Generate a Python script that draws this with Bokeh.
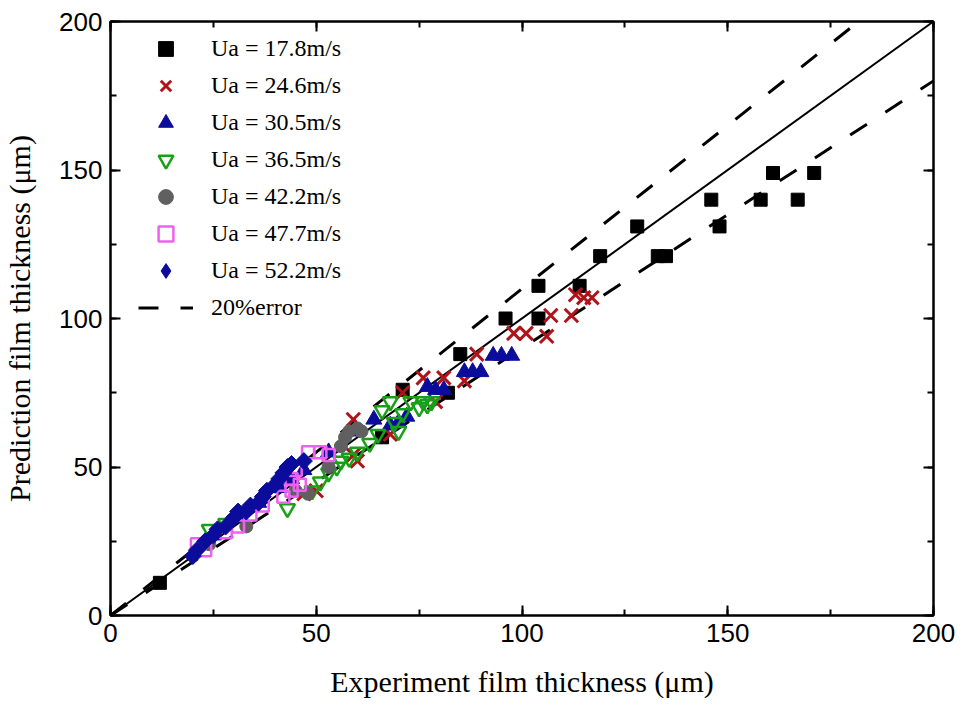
import math
from bokeh.plotting import figure
from bokeh.models import Range1d, SingleIntervalTicker, LinearAxis, Legend, LegendItem
from bokeh.embed import file_html
from bokeh.resources import INLINE

# ---- data ----
black_x = [12, 66, 71, 82, 85, 96, 104, 104, 114, 119, 133, 135, 128, 148, 146, 158, 167, 161, 171]
black_y = [11, 60, 76, 75, 88, 100, 100, 111, 111, 121, 121, 121, 131, 131, 140, 140, 140, 149, 149]

red_x = [47, 50, 59, 60, 59, 68, 71, 76, 79, 81, 86, 89, 98, 101, 106, 107, 112, 113, 115, 117]
red_y = [41, 42, 54, 52, 66, 61, 75, 80, 72, 80, 79, 88, 95, 95, 94, 101, 101, 108, 107, 107]

tri_x = [25, 31, 36, 41, 44, 47, 53, 60, 64, 68, 70, 72, 77, 79, 81, 86, 88, 90, 93, 95, 97.5]
tri_y = [27, 33, 38, 43, 46, 49, 55, 62, 66, 64, 65, 67, 77, 76, 76, 82, 82, 82, 87.5, 87.5, 87.5]

green_x = [24, 28, 43, 49, 51, 53, 55, 56, 58, 60, 63, 65, 66, 68, 69, 70, 71, 73, 75, 76, 77, 78]
green_y = [29, 31, 36, 42, 45, 48, 50, 52, 53, 55, 58, 61, 69, 72, 65, 62, 68, 72, 70, 72, 71, 72]

grey_x = [24, 33, 45, 48, 53, 56, 57, 58, 60, 61]
grey_y = [24, 30, 42, 41, 50, 57, 60, 62, 63, 62]

pink_x = [21, 23, 28, 31, 34, 37, 42, 44, 44, 45, 46, 48, 51, 53]
pink_y = [24, 22, 28, 30, 34, 37, 40, 42, 46, 49, 44, 55, 55, 54]

dia_x = [20, 21, 23, 25, 26, 28, 30, 31, 33, 34, 36, 37, 38, 40, 41, 42, 43, 44, 47]
dia_y = [20, 22, 25, 27, 29, 30, 33, 35, 35, 37, 38, 40, 42, 44, 46, 48, 50, 51, 52]

ref_x = [0, 200]
ref_y = [0, 200]
upper_y = [0, 220]
lower_y = [0, 180]

tick_values = [0, 50, 100, 150, 200]
labels = ["Ua = 17.8m/s", "Ua = 24.6m/s", "Ua = 30.5m/s", "Ua = 36.5m/s",
          "Ua = 42.2m/s", "Ua = 47.7m/s", "Ua = 52.2m/s", "20%error"]

SERIF = "Liberation Serif"
SANS = "Liberation Sans Narrow, Liberation Sans, Arial, sans-serif"
NAVY = "#0C0C9C"

p = figure(width=960, height=706, x_range=Range1d(0, 200), y_range=Range1d(0, 200),
           output_backend="svg", toolbar_location=None,
           min_border_left=107, min_border_right=27, min_border_top=21, min_border_bottom=91)
p.background_fill_color = "white"
p.border_fill_color = "white"
p.grid.visible = False
p.outline_line_color = "black"
p.outline_line_width = 2

def style_axis(ax, show_labels=True):
    ax.ticker = SingleIntervalTicker(interval=50, num_minor_ticks=2)
    ax.axis_line_color = "black"
    ax.axis_line_width = 2
    ax.major_tick_in = 10
    ax.major_tick_out = 0
    ax.minor_tick_in = 6
    ax.minor_tick_out = 0
    ax.major_tick_line_width = 2
    ax.minor_tick_line_width = 2
    ax.major_tick_line_color = "black"
    ax.minor_tick_line_color = "black"
    if show_labels:
        ax.major_label_text_font = SANS
        ax.major_label_text_font_size = "26px"
        ax.major_label_text_color = "black"
        ax.major_label_standoff = 8
        ax.axis_label_text_font = SERIF
        ax.axis_label_text_font_size = "30px"
        ax.axis_label_text_font_style = "normal"
        ax.axis_label_text_color = "black"
        ax.axis_label_standoff = 20
    else:
        ax.major_label_overrides = {v: "" for v in tick_values}
        ax.major_label_standoff = 0

style_axis(p.xaxis[0])
style_axis(p.yaxis[0])
p.xaxis[0].axis_label = "Experiment film thickness (\u03bcm)"
p.yaxis[0].axis_label = "Prediction film thickness (\u03bcm)"

top_ax = LinearAxis()
right_ax = LinearAxis()
style_axis(top_ax, False)
style_axis(right_ax, False)
p.add_layout(top_ax, "above")
p.add_layout(right_ax, "right")

# reference lines
p.line(ref_x, ref_y, line_color="black", line_width=2)
r_up = p.line(ref_x, upper_y, line_color="black", line_width=3, line_dash="20 22")
p.line(ref_x, lower_y, line_color="black", line_width=3, line_dash="20 22")

r1 = p.scatter(black_x, black_y, marker="square", size=13, fill_color="black", line_color="black")
r2 = p.scatter(red_x, red_y, marker="x", size=19, line_color="#B0141A", line_width=3)
r3 = p.scatter(tri_x, tri_y, marker="triangle", size=16, fill_color=NAVY, line_color=NAVY)
r4 = p.scatter(green_x, green_y, marker="inverted_triangle", size=15, fill_color=None,
               line_color="#18A018", line_width=2.5)
r5 = p.scatter(grey_x, grey_y, marker="circle", size=13, fill_color="#606060", line_color="#606060")
r6 = p.scatter(pink_x, pink_y, marker="square", size=12, fill_color=None,
               line_color="#F060F0", line_width=2.5)
# legend proxy with the diamond symbol (hidden beneath the first diamond point)
r7_leg = p.scatter(dia_x[:1], dia_y[:1], marker="diamond", size=12, fill_color=NAVY, line_color=NAVY)
r7 = p.scatter(dia_x, dia_y, marker="square", angle=math.pi / 4, size=12,
               fill_color=NAVY, line_color=NAVY)

items = [LegendItem(label=l, renderers=[r]) for l, r in
         zip(labels, [r1, r2, r3, r4, r5, r6, r7_leg, r_up])]
legend = Legend(items=items, location=(28, 289), border_line_color=None,
                background_fill_alpha=0, margin=0, padding=0,
                glyph_width=55, glyph_height=37, label_height=37, spacing=0,
                label_standoff=18, label_text_font=SERIF, label_text_font_size="24px",
                label_text_color="black")
p.add_layout(legend, "center")

open("out.html", "w").write(file_html(p, INLINE))
